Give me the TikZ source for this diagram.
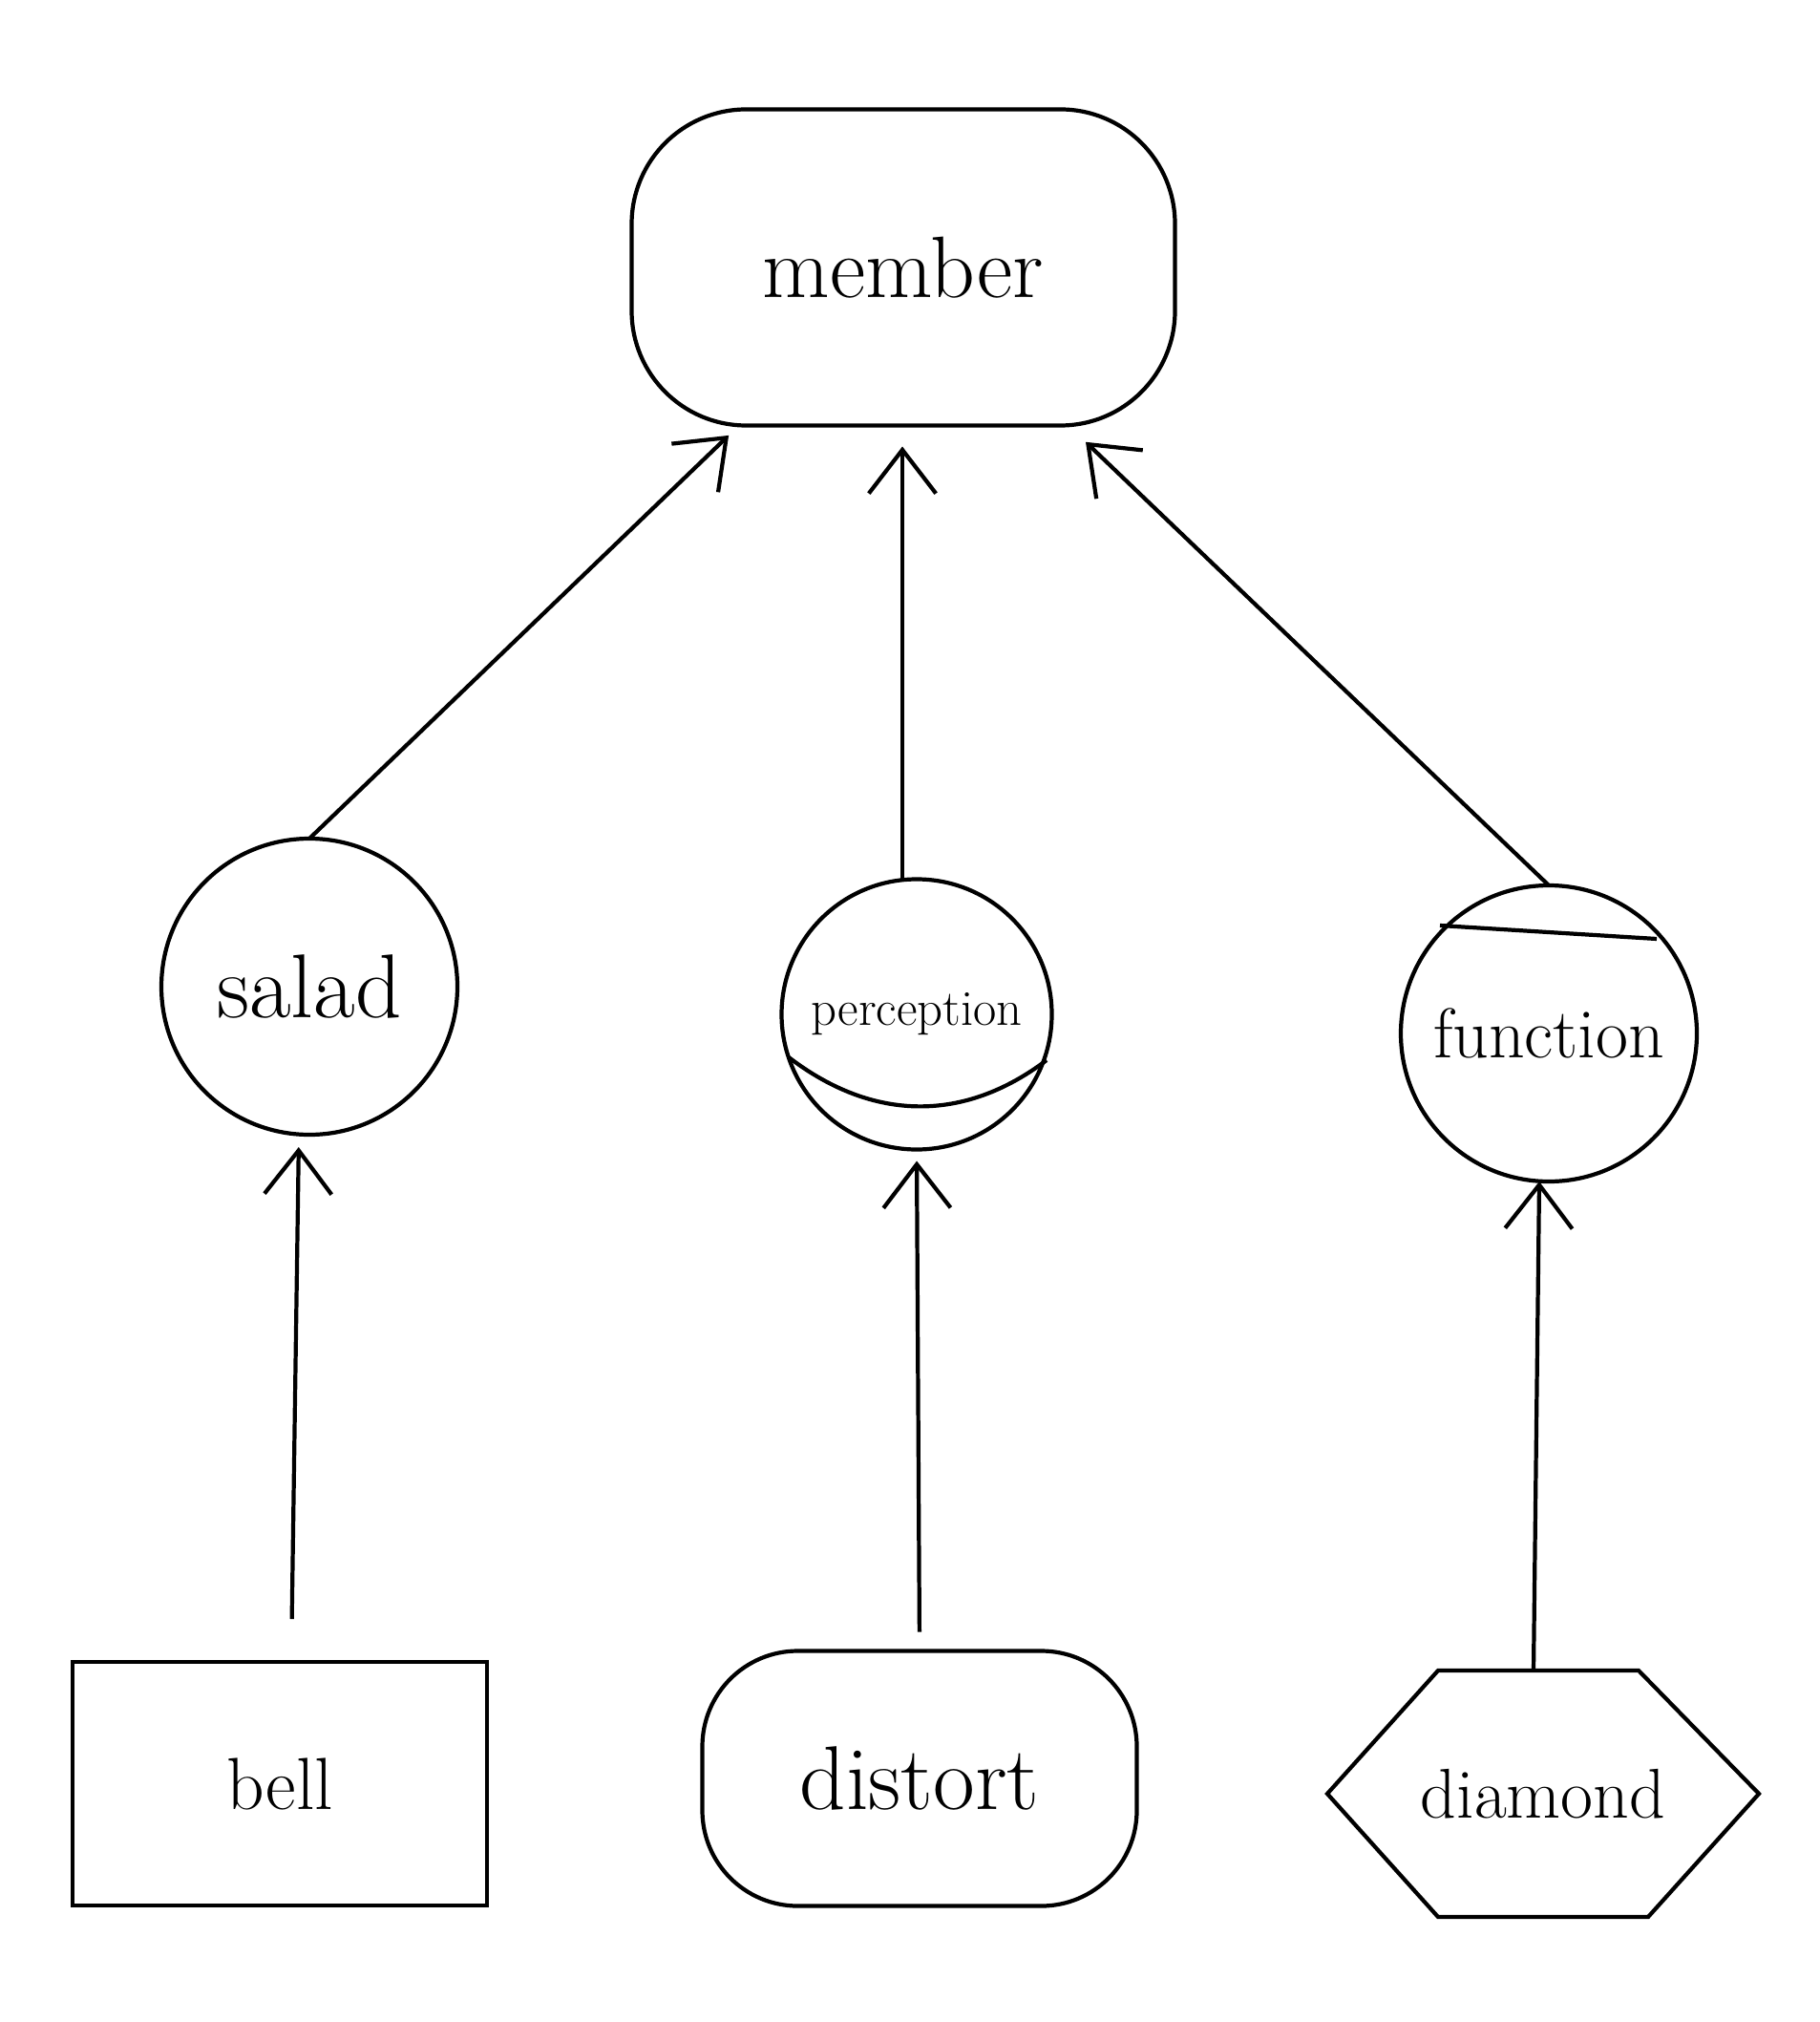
\documentclass[tikz,border=0pt]{standalone}
\usepackage{tikz}
\usetikzlibrary{arrows.meta}

\begin{document}
\begin{tikzpicture}[
  every node/.style={line width=1.2pt, outer sep=0pt, font=\fontsize{22}{26}\selectfont},
  blob/.style={draw, rectangle, rounded corners=#1},
  ball/.style={draw, circle, minimum size=3.1cm, inner sep=0pt},
  link/.style={line width=1.2pt, -{Straight Barb[length=13pt,width=20pt]}}
]
\useasboundingbox (0,0) rectangle (19.05,-21.17);

% top
\node[blob=1.2cm, minimum width=5.69cm, minimum height=3.31cm, font=\fontsize{26}{30}\selectfont] (member) at (9.46,-2.80) {member};

% middle row
\node[ball, font=\fontsize{27}{31}\selectfont] (salad) at (3.24,-10.33) {salad};
\node[ball, minimum size=2.83cm, font=\fontsize{15}{18}\selectfont] (perception) at (9.60,-10.62) {perception};
\node[ball, font=\fontsize{21}{25}\selectfont] (function) at (16.22,-10.82) {function};
\draw[line width=1.2pt] ([shift={(-1.34,-0.45)}]perception.center)
  .. controls ([shift={(-0.45,-1.13)}]perception.center) and ([shift={(0.5,-1.13)}]perception.center)
  .. ([shift={(1.36,-0.48)}]perception.center);
\draw[line width=1.2pt] ([shift={(-1.14,1.13)}]function.center) -- ([shift={(1.13,0.99)}]function.center);

% bottom row
\node[draw, rectangle, minimum width=4.34cm, minimum height=2.55cm] (bell) at (2.93,-18.675) {bell};
\node[blob=1cm, minimum width=4.55cm, minimum height=2.67cm, font=\fontsize{27}{31}\selectfont] (distort) at (9.63,-18.62) {distort};
\node[minimum width=4.52cm, minimum height=2.58cm, font=\fontsize{21}{25}\selectfont] (diamond) at (16.16,-18.78) {diamond};
\draw[line width=1.2pt] ([xshift=-1.1cm]diamond.north) -- ([xshift=1cm]diamond.north) -- (diamond.east)
  -- ([xshift=1.1cm]diamond.south) -- ([xshift=-1.1cm]diamond.south) -- (diamond.west) -- cycle;

% arrows
\draw[link, shorten >=0.15cm] (salad.north) -- (member);
\draw[link, shorten >=0.22cm] ([xshift=-1.5mm]perception.north) -- ([xshift=-1.5mm]perception.north |- member.south);
\draw[link, shorten >=0.25cm] (function.north) -- (member);
\draw[link, shorten <=0.45cm, shorten >=0.13cm] ([xshift=1.2mm]bell.north) -- ([xshift=-1.1mm]salad.south);
\draw[link, shorten <=0.2cm, shorten >=0.12cm] (distort.north) -- (perception.south);
\draw[link] ([xshift=-1mm]diamond.north) -- ([xshift=-1mm]function.south);
\end{tikzpicture}
\end{document}
